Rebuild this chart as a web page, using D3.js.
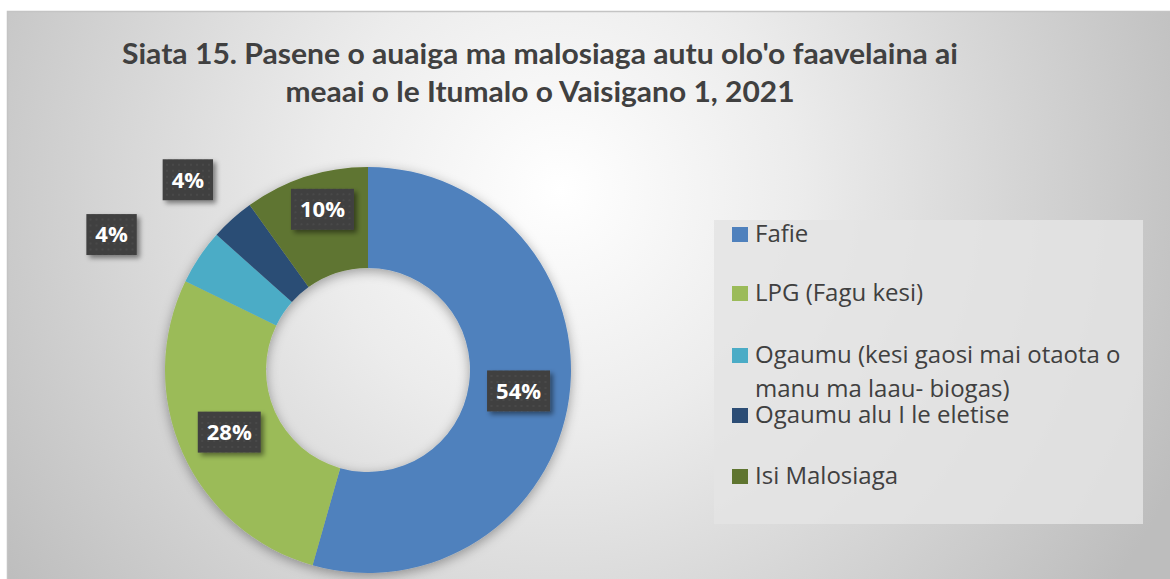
<!DOCTYPE html>
<html>
<head>
<meta charset="utf-8">
<script src="https://cdn.jsdelivr.net/npm/d3@7"></script>
<style>
html,body{margin:0;padding:0;background:#fff;}
svg{display:block;}
text{font-variant-ligatures:none;}
</style>
</head>
<body>
<svg id="chart" width="1170" height="579"></svg>
<script>
// ---- data ----
const categories = ["Fafie", "LPG (Fagu kesi)", "Ogaumu (kesi gaosi mai otaota o manu ma laau- biogas)", "Ogaumu alu I le eletise", "Isi Malosiaga"];
const legendLines = [["Fafie"], ["LPG (Fagu kesi)"], ["Ogaumu (kesi gaosi mai otaota o", "manu ma laau- biogas)"], ["Ogaumu alu I le eletise"], ["Isi Malosiaga"]];
const values = [54.4, 27.8, 4.4, 3.5, 9.9];
const labels = ["54%", "28%", "4%", "4%", "10%"];
const colors = ["#4f81bd", "#9bbb59", "#4bacc6", "#2c4d75", "#5f7530"];
const titleLines = ["Siata 15. Pasene o auaiga ma malosiaga autu olo'o faavelaina ai", "meaai o le Itumalo o Vaisigano 1, 2021"];

// ---- layout ----
const W = 1170, H = 579;
const cx = 368, cy = 370, rOuter = 203, rInner = 102;
// label placement: radius and angle shift (deg) relative to slice middle
const labelPlace = [[152, 0], [152, 0], [290, -6], [262, -1.5], [167, 2]];

const svg = d3.select("#chart");
const defs = svg.append("defs");

const bg = defs.append("radialGradient").attr("id", "bg")
  .attr("gradientUnits", "userSpaceOnUse")
  .attr("cx", 560).attr("cy", 190).attr("r", 680);
bg.append("stop").attr("offset", 0).attr("stop-color", "#ffffff");
bg.append("stop").attr("offset", 0.35).attr("stop-color", "#ececec");
bg.append("stop").attr("offset", 1).attr("stop-color", "#bdbdbd");

const sh = defs.append("filter").attr("id", "shadow").attr("x", "-20%").attr("y", "-20%").attr("width", "140%").attr("height", "140%");
sh.append("feDropShadow").attr("dx", 0).attr("dy", 3).attr("stdDeviation", 6).attr("flood-color", "#000").attr("flood-opacity", 0.35);

const lsh = defs.append("filter").attr("id", "lshadow").attr("x", "-30%").attr("y", "-30%").attr("width", "160%").attr("height", "160%");
lsh.append("feDropShadow").attr("dx", 3).attr("dy", 3).attr("stdDeviation", 2.5).attr("flood-color", "#000").attr("flood-opacity", 0.45);

const pat = defs.append("pattern").attr("id", "dots").attr("patternUnits", "userSpaceOnUse").attr("width", 6).attr("height", 6);
pat.append("rect").attr("width", 6).attr("height", 6).attr("fill", "#404040");
pat.append("circle").attr("cx", 3).attr("cy", 3).attr("r", 1).attr("fill", "#4c4c4c");

// chart area
svg.append("rect").attr("x", 7.5).attr("y", 11.5).attr("width", W).attr("height", H)
  .attr("fill", "url(#bg)").attr("stroke", "#c4c4c4").attr("stroke-width", 1.5);

// title
const title = svg.append("g");
const titleTargets = [836, 509];
const titleBase = [64, 102];
titleLines.forEach((t, i) => {
  title.append("text").attr("x", 540).attr("y", titleBase[i])
    .attr("text-anchor", "middle")
    .attr("font-family", "Lato, 'Open Sans', sans-serif").attr("font-weight", "bold")
    .attr("font-size", 29).attr("fill", "#404040")
    .attr("textLength", titleTargets[i]).attr("lengthAdjust", "spacingAndGlyphs")
    .text(t);
});

// donut
const pie = d3.pie().value(d => d).sort(null);
const arcs = pie(values);
const arc = d3.arc().innerRadius(rInner).outerRadius(rOuter);
const g = svg.append("g").attr("transform", `translate(${cx},${cy})`);
g.append("g").attr("filter", "url(#shadow)")
  .selectAll("path").data(arcs).join("path")
  .attr("d", arc)
  .attr("fill", (d, i) => colors[i]);

// labels
const lg = g.append("g");
arcs.forEach((d, i) => {
  const [r, shift] = labelPlace[i];
  const a = (d.startAngle + d.endAngle) / 2 + shift * Math.PI / 180;
  const x = r * Math.sin(a), y = -r * Math.cos(a);
  const grp = lg.append("g").attr("transform", `translate(${x},${y})`);
  const rect = grp.append("rect");
  const t = grp.append("text").attr("text-anchor", "middle").attr("dy", "0.36em")
    .attr("font-family", "'Open Sans', Lato, sans-serif").attr("font-weight", "bold")
    .attr("font-size", 22).attr("fill", "#fff").text(labels[i]);
  const w = t.node().getComputedTextLength();
  rect.attr("x", -w / 2 - 9).attr("y", -20.5).attr("width", w + 18).attr("height", 41)
    .attr("fill", "url(#dots)").attr("filter", "url(#lshadow)");
});

// legend
const leg = svg.append("g");
leg.append("rect").attr("x", 714).attr("y", 220).attr("width", 429).attr("height", 304)
  .attr("fill", "#e4e4e4").attr("opacity", 0.85);
const legBase = [242, 301, 363, 423, 484];
legendLines.forEach((lines, i) => {
  leg.append("rect").attr("x", 732).attr("y", legBase[i] - 15).attr("width", 16).attr("height", 15)
    .attr("fill", colors[i]);
  lines.forEach((ln, j) => {
    leg.append("text").attr("x", 755).attr("y", legBase[i] + j * 34)
      .attr("font-family", "'Open Sans', Lato, sans-serif").attr("font-size", 24)
      .attr("fill", "#404040").text(ln);
  });
});
</script>
</body>
</html>
